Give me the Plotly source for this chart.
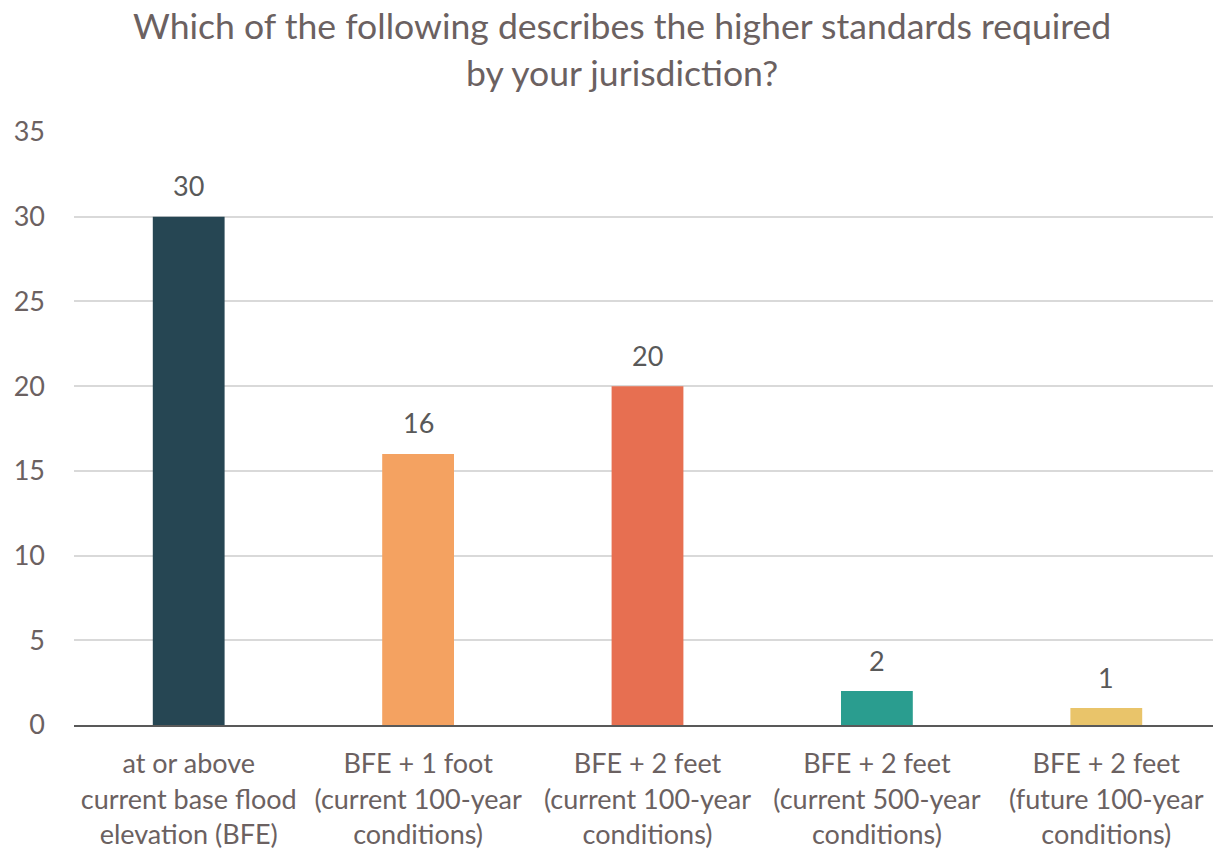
import plotly.graph_objects as go

categories = [
    "at or above<br>current base flood<br>elevation (BFE)",
    "BFE + 1 foot<br>(current 100-year<br>conditions)",
    "BFE + 2 feet<br>(current 100-year<br>conditions)",
    "BFE + 2 feet<br>(current 500-year<br>conditions)",
    "BFE + 2 feet<br>(future 100-year<br>conditions)",
]
values = [30, 16, 20, 2, 1]
colors = ["#264653", "#F4A261", "#E76F51", "#2A9D8F", "#E9C46A"]
y_ticks = [0, 5, 10, 15, 20, 25, 30, 35]
title_lines = [
    "Which of the following describes the higher standards required",
    "by your jurisdiction?",
]

txt = "#6b6161"
font_family = "Lato, sans-serif"

fig = go.Figure(go.Bar(
    x=categories, y=values, marker_color=colors, marker_line_width=0,
    cliponaxis=False,
))

for c, v in zip(categories, values):
    fig.add_annotation(
        x=c, y=v, xref="x", yref="y", text=str(v), showarrow=False,
        yshift=31, yanchor="middle", xanchor="center",
        font=dict(size=27, color="#595959", family=font_family),
    )

fig.update_layout(
    width=1213, height=840,
    paper_bgcolor="white", plot_bgcolor="white",
    margin=dict(l=66, r=0, t=124, b=123),
    bargap=0.687,
    showlegend=False,
    font=dict(family=font_family, color=txt),
)
for i, line in enumerate(title_lines):
    fig.add_annotation(
        text=line, xref="paper", yref="paper", x=0.478, y=1 + (124 - 17 - 48 * i) / 593,
        xanchor="center", yanchor="middle", showarrow=False,
        font=dict(size=35.6, color=txt, family=font_family),
    )
fig.update_yaxes(
    range=[0, 35], tickvals=y_ticks, showgrid=True, gridcolor="#d9d9d9", gridwidth=1.5,
    zeroline=False, showline=False, ticks="", tickfont=dict(size=27, color=txt),
    ticklabelstandoff=28, automargin=False,
)
fig.update_xaxes(
    showline=True, linecolor="#595959", linewidth=2, ticks="",
    tickfont=dict(size=27, color=txt), automargin=False, ticklabelstandoff=14,
)

fig.write_html("out.html")
